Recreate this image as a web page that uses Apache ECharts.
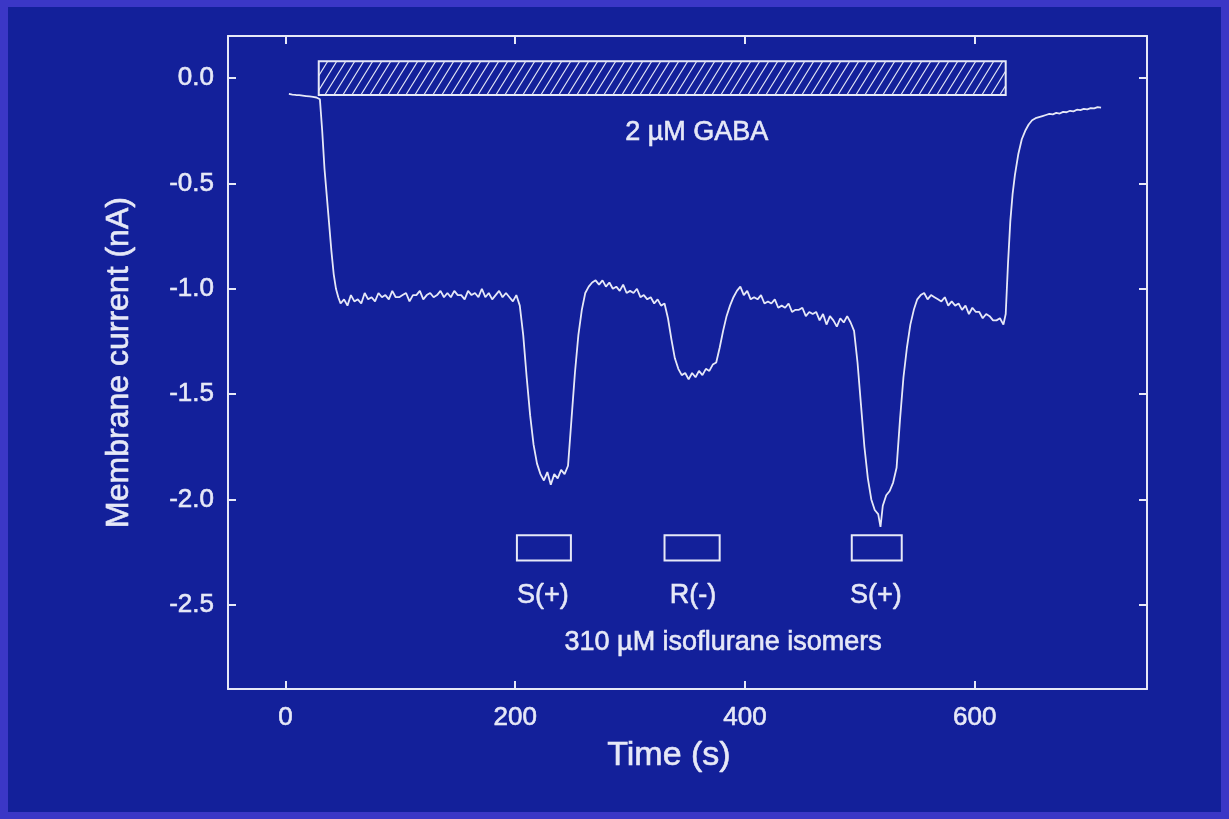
<!DOCTYPE html>
<html><head><meta charset="utf-8">
<script src="https://cdn.jsdelivr.net/npm/echarts@6/dist/echarts.min.js"></script>
<style>
html,body{margin:0;padding:0;width:1229px;height:819px;background:#3b37c6;overflow:hidden}
#c{position:absolute;left:8px;top:7px;width:1213px;height:805px;}
</style></head><body><div id="c"></div>
<script>
// Time (s)
const timeS = [
 3,6,9,12,15,18,21,24,27,30,32,34,36,38,40,42,44,46,
 48,51,54,57,60,63,66,69,72,75,78,81,84,87,90,93,96,99,102,105,108,111,114,117,120,123,126,129,132,135,138,141,144,147,150,153,156,159,162,165,168,171,174,177,180,183,186,189,192,195,198,201,
 204,207,210,213,216,219,222,225,228,231,234,237,240,243,246,249,252,255,258,261,264,267,270,273,276,279,282,285,288,291,294,297,300,303,306,309,312,315,318,321,324,327,330,
 333,336,339,342,345,348,351,354,357,360,363,366,369,372,375,378,381,384,387,390,393,396,399,402,405,408,411,414,417,420,423,426,429,432,435,438,441,444,447,450,453,456,459,462,465,468,471,474,477,480,483,486,489,492,
 495,498,501,504,507,510,513,516,518,520,523,526,529,532,535,538,541,544,547,550,553,556,559,562,565,568,571,574,577,580,583,586,589,592,595,598,601,604,607,610,613,616,619,622,625,
 627,629,631,633,635,638,641,644,647,650,653,656,659,662,665,668,671,674,677,680,683,686,689,692,695,698,701,704,707,710
];
// Membrane current (nA)
const currentNA = [
 -0.075,-0.078,-0.080,-0.081,-0.083,-0.085,-0.087,-0.089,-0.092,-0.100,-0.25,-0.43,-0.56,-0.69,-0.82,-0.93,-1.00,-1.04,
 -1.07,-1.05,-1.08,-1.03,-1.06,-1.05,-1.07,-1.02,-1.05,-1.04,-1.06,-1.02,-1.04,-1.03,-1.05,-1.01,-1.04,-1.04,-1.03,-1.02,-1.06,-1.03,-1.03,-1.01,-1.05,-1.03,-1.02,-1.04,-1.03,-1.01,-1.04,-1.02,-1.04,-1.01,-1.03,-1.03,-1.05,-1.01,-1.03,-1.02,-1.04,-1.00,-1.04,-1.02,-1.05,-1.03,-1.01,-1.04,-1.02,-1.04,-1.06,-1.03,
 -1.08,-1.22,-1.42,-1.60,-1.74,-1.83,-1.88,-1.91,-1.87,-1.93,-1.88,-1.90,-1.86,-1.88,-1.84,-1.62,-1.40,-1.22,-1.10,-1.02,-0.99,-0.97,-0.96,-0.98,-0.96,-0.99,-0.97,-1.00,-0.99,-1.01,-0.98,-1.02,-1.01,-1.02,-1.00,-1.04,-1.03,-1.05,-1.04,-1.07,-1.05,-1.08,-1.07,
 -1.14,-1.24,-1.33,-1.38,-1.41,-1.40,-1.43,-1.40,-1.42,-1.39,-1.41,-1.38,-1.39,-1.36,-1.35,-1.28,-1.20,-1.13,-1.08,-1.04,-1.01,-0.99,-1.03,-1.01,-1.05,-1.04,-1.05,-1.03,-1.07,-1.06,-1.07,-1.05,-1.09,-1.08,-1.09,-1.07,-1.11,-1.10,-1.10,-1.09,-1.13,-1.11,-1.12,-1.11,-1.15,-1.12,-1.17,-1.13,-1.15,-1.18,-1.14,-1.16,-1.13,-1.16,
 -1.20,-1.35,-1.55,-1.75,-1.90,-2.00,-2.05,-2.07,-2.13,-2.03,-1.98,-1.96,-1.92,-1.85,-1.62,-1.42,-1.28,-1.17,-1.10,-1.05,-1.03,-1.02,-1.05,-1.03,-1.04,-1.05,-1.06,-1.04,-1.08,-1.06,-1.08,-1.07,-1.10,-1.08,-1.12,-1.09,-1.11,-1.11,-1.14,-1.12,-1.13,-1.15,-1.15,-1.14,-1.17,
 -1.12,-0.88,-0.68,-0.55,-0.46,-0.36,-0.29,-0.25,-0.22,-0.20,-0.19,-0.185,-0.18,-0.175,-0.17,-0.172,-0.165,-0.168,-0.16,-0.162,-0.155,-0.158,-0.15,-0.152,-0.146,-0.148,-0.142,-0.144,-0.138,-0.14
];
const xTicks = [0, 200, 400, 600];
const yTicks = [0, -0.5, -1.0, -1.5, -2.0, -2.5];
// GABA application bar: [tStart, tEnd, top, bottom]
const gabaBar = [[29, 627, 0.08, -0.08]];
// isoflurane application boxes: [tStart, tEnd, top, bottom]
const isoBoxes = [[201.5, 248.5, -2.17, -2.29], [330, 378, -2.17, -2.29], [493, 536.5, -2.17, -2.29]];
// annotation texts: [t, current, text]
const notes = [
 [358, -0.26, '2 µM GABA'],
 [224, -2.455, 'S(+)'],
 [354.7, -2.455, 'R(-)'],
 [514, -2.455, 'S(+)'],
 [381, -2.68, '310 µM isoflurane isomers']
];

const FG = '#e6e8f7';
const FONT = '"Liberation Sans", Arial, Helvetica, sans-serif';
const TB = {textBorderColor: FG, textBorderWidth: 0.6};

const chart = echarts.init(document.getElementById('c'), null, {renderer: 'canvas'});

function renderHatch(params, api) {
  const p0 = api.coord([api.value(0), api.value(2)]);
  const p1 = api.coord([api.value(1), api.value(3)]);
  const x = p0[0], y = p0[1], w = p1[0] - p0[0], h = p1[1] - p0[1];
  const dx = h * 0.62, step = 9;
  const children = [];
  for (let k = -dx; k < w; k += step) {
    const s0 = Math.max(0, -k / dx), s1 = Math.min(1, (w - k) / dx);
    if (s1 <= s0) continue;
    children.push({type: 'line', shape: {
      x1: x + k + s0 * dx, y1: y + h - s0 * h,
      x2: x + k + s1 * dx, y2: y + h - s1 * h
    }, style: {stroke: FG, lineWidth: 1.2}});
  }
  children.push({type: 'rect', shape: {x, y, width: w, height: h}, style: {fill: null, stroke: FG, lineWidth: 2}});
  return {type: 'group', children};
}
function renderBox(params, api) {
  const p0 = api.coord([api.value(0), api.value(2)]);
  const p1 = api.coord([api.value(1), api.value(3)]);
  return {type: 'rect', shape: {x: p0[0], y: p0[1], width: p1[0] - p0[0], height: p1[1] - p0[1]},
    style: {fill: null, stroke: FG, lineWidth: 2}};
}

const axisLine = {show: true, onZero: false, lineStyle: {color: FG, width: 2}};
const option = {
  backgroundColor: '#13209a',
  animation: false,
  grid: {left: 220, top: 29, right: 74, bottom: 123, containLabel: false},
  xAxis: [{
    type: 'value', min: -50, max: 750, position: 'bottom',
    axisLine,
    axisTick: {show: true, inside: true, length: 8, customValues: xTicks, lineStyle: {color: FG, width: 2}},
    axisLabel: Object.assign({show: true, customValues: xTicks, color: FG, fontSize: 26, margin: 16, fontFamily: FONT}, TB),
    splitLine: {show: false},
    name: 'Time (s)', nameLocation: 'middle', nameGap: 50,
    nameTextStyle: Object.assign({color: FG, fontSize: 34, fontFamily: FONT, padding: [0, 37, 0, 0]}, TB)
  }, {
    type: 'value', min: -50, max: 750, position: 'top',
    axisLine,
    axisTick: {show: true, inside: true, length: 8, customValues: xTicks, lineStyle: {color: FG, width: 2}},
    axisLabel: {show: false}, splitLine: {show: false}
  }],
  yAxis: [{
    type: 'value', min: -2.9, max: 0.2, position: 'left',
    axisLine,
    axisTick: {show: true, inside: true, length: 8, customValues: yTicks, lineStyle: {color: FG, width: 2}},
    axisLabel: Object.assign({show: true, customValues: yTicks, color: FG, fontSize: 26, margin: 14, fontFamily: FONT,
      formatter: v => v.toFixed(1)}, TB),
    splitLine: {show: false},
    name: 'Membrane current (nA)', nameLocation: 'middle', nameGap: 93,
    nameTextStyle: Object.assign({color: FG, fontSize: 32, fontFamily: FONT}, TB)
  }, {
    type: 'value', min: -2.9, max: 0.2, position: 'right',
    axisLine,
    axisTick: {show: true, inside: true, length: 8, customValues: yTicks, lineStyle: {color: FG, width: 2}},
    axisLabel: {show: false}, splitLine: {show: false}
  }],
  series: [
    {type: 'custom', name: 'GABA', renderItem: renderHatch, data: gabaBar, xAxisIndex: 0, yAxisIndex: 0, silent: true},
    {type: 'custom', name: 'isoflurane', renderItem: renderBox, data: isoBoxes, xAxisIndex: 0, yAxisIndex: 0, silent: true},
    {type: 'line', name: 'current', showSymbol: false, symbol: 'none',
      data: timeS.map((t, i) => [t, currentNA[i]]),
      lineStyle: {color: FG, width: 1.8}, xAxisIndex: 0, yAxisIndex: 0},
    {type: 'scatter', name: 'notes', symbolSize: 0, silent: true,
      data: notes.map(n => ({value: [n[0], n[1]], name: n[2]})),
      itemStyle: {opacity: 1},
      label: Object.assign({show: true, position: 'inside', formatter: '{b}', color: FG, fontSize: 27, fontFamily: FONT, opacity: 1}, TB)}
  ]
};
chart.setOption(option);
</script></body></html>
